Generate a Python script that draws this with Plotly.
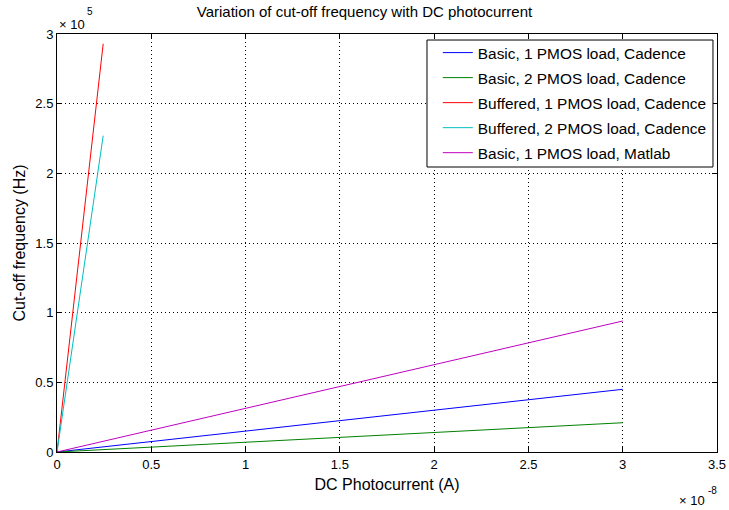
import plotly.graph_objects as go

# DC photocurrent (units of 1e-8 A) and cut-off frequency (units of 1e5 Hz)
current_basic = [0.0, 0.5, 1.0, 1.5, 2.0, 2.5, 3.0]
current_buffered = [0.0, 0.05, 0.1, 0.15, 0.2, 0.245]

basic_1pmos_cadence = [0.0, 0.075, 0.15, 0.225, 0.30, 0.375, 0.45]
basic_2pmos_cadence = [0.0, 0.035, 0.07, 0.105, 0.14, 0.175, 0.21]
buffered_1pmos_cadence = [0.0, 0.60, 1.19, 1.79, 2.38, 2.93]
buffered_2pmos_cadence = [0.0, 0.47, 0.93, 1.40, 1.86, 2.27]
basic_1pmos_matlab = [0.0, 0.157, 0.313, 0.47, 0.627, 0.783, 0.94]

series = [
    ("Basic, 1 PMOS load, Cadence", current_basic, basic_1pmos_cadence, "#0000ff"),
    ("Basic, 2 PMOS load, Cadence", current_basic, basic_2pmos_cadence, "#008000"),
    ("Buffered, 1 PMOS load, Cadence", current_buffered, buffered_1pmos_cadence, "#ff0000"),
    ("Buffered, 2 PMOS load, Cadence", current_buffered, buffered_2pmos_cadence, "#00bfbf"),
    ("Basic, 1 PMOS load, Matlab", current_basic, basic_1pmos_matlab, "#bf00bf"),
]

x_ticks = [0, 0.5, 1, 1.5, 2, 2.5, 3, 3.5]
y_ticks = [0, 0.5, 1, 1.5, 2, 2.5, 3]

FONT = "Liberation Sans, Arial, Helvetica, sans-serif"

fig = go.Figure()
for i, (name, xs, ys, color) in enumerate(series):
    fig.add_trace(go.Scatter(
        x=xs, y=ys, mode="lines", name=name, legendgroup=f"g{i}",
        line=dict(color=color, width=1),
    ))

axis_common = dict(
    showline=True, linecolor="black", linewidth=1, mirror="ticks",
    ticks="inside", ticklen=5, tickcolor="black", tickwidth=1,
    showgrid=True, gridcolor="black", griddash="1px,3px", gridwidth=1,
    zeroline=False, automargin=False,
    tickfont=dict(family=FONT, size=13, color="black"),
)

# legend frame (paper coordinates): white box over the plot, under the legend
box_x0, box_x1 = 0.5606, 0.9939
box_y0, box_y1 = 0.6818, 0.9856

fig.update_layout(
    width=729, height=510,
    margin=dict(l=57, r=12, t=34, b=58, autoexpand=False),
    paper_bgcolor="white", plot_bgcolor="white",
    font=dict(family=FONT, size=13, color="black"),
    title=dict(text="Variation of cut-off frequency with DC photocurrent",
               x=0.5, xanchor="center", y=0.976, yanchor="middle",
               font=dict(family=FONT, size=15, color="black")),
    xaxis=dict(range=[0, 3.5], tickvals=x_ticks, ticktext=[f"{v:g}" for v in x_ticks],
               title=dict(text="DC Photocurrent (A)", standoff=8,
                          font=dict(family=FONT, size=16)),
               **axis_common),
    yaxis=dict(range=[0, 3], tickvals=y_ticks, ticktext=[f"{v:g}" for v in y_ticks],
               title=dict(text="Cut-off frequency (Hz)", standoff=5,
                          font=dict(family=FONT, size=16)),
               **axis_common),
    shapes=[dict(type="rect", xref="paper", yref="paper", layer="above",
                 x0=box_x0, x1=box_x1, y0=box_y0, y1=box_y1,
                 fillcolor="white", line=dict(color="black", width=1))],
    legend=dict(x=0.577, y=0.995, xanchor="left", yanchor="top",
                bgcolor="rgba(0,0,0,0)", borderwidth=0,
                font=dict(family=FONT, size=15.4, color="black"),
                traceorder="grouped", tracegroupgap=2),
    annotations=[
        dict(text="\u00d7 10", xref="paper", yref="paper",
             x=0.0, y=1.0, xanchor="left", yanchor="middle", yshift=10,
             showarrow=False, font=dict(family=FONT, size=13, color="black")),
        dict(text="5", xref="paper", yref="paper",
             x=0.0, y=1.0, xanchor="left", yanchor="middle", xshift=28, yshift=23,
             showarrow=False, font=dict(family=FONT, size=10, color="black")),
        dict(text="\u00d7 10", xref="paper", yref="paper",
             x=1.0, y=0.0, xanchor="right", yanchor="middle", xshift=-10, yshift=-48,
             showarrow=False, font=dict(family=FONT, size=13, color="black")),
        dict(text="-8", xref="paper", yref="paper",
             x=1.0, y=0.0, xanchor="left", yanchor="middle", xshift=-11, yshift=-38,
             showarrow=False, font=dict(family=FONT, size=10, color="black")),
    ],
)

fig.write_html("out.html")
